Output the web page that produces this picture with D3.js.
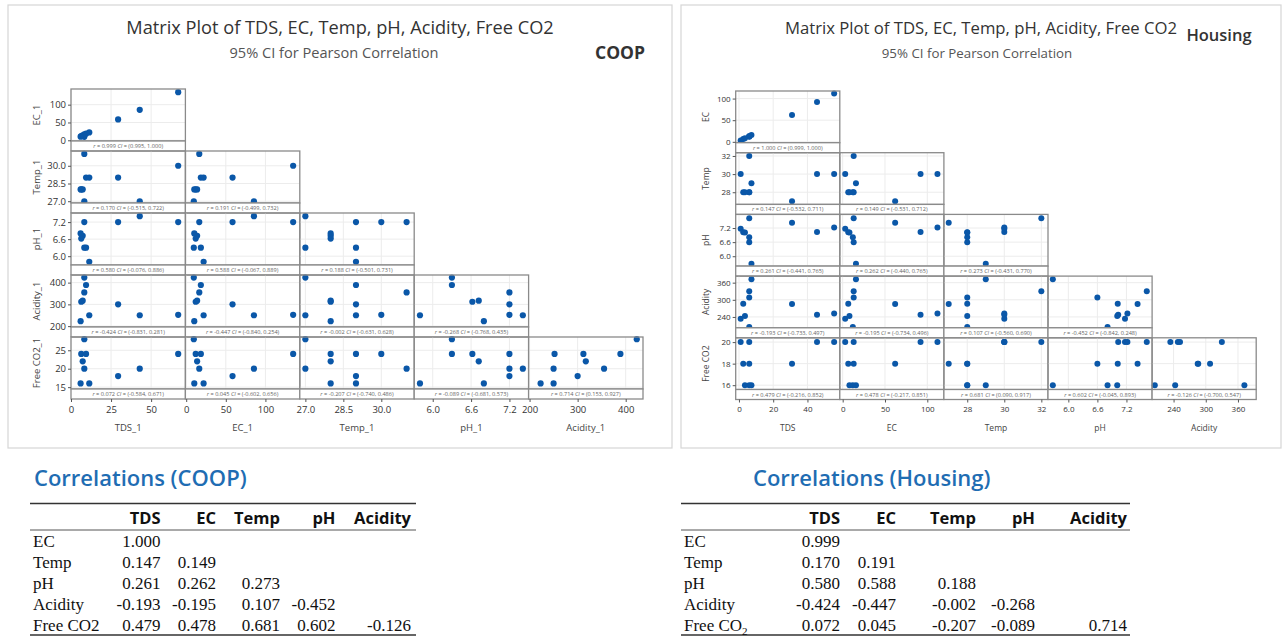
<!DOCTYPE html>
<html><head><meta charset="utf-8">
<script src="https://cdn.jsdelivr.net/npm/d3@7"></script>
<style>body{margin:0;background:#fff;} svg{display:block}</style>
</head><body><svg id="chart" width="1282" height="638"></svg>
<script>
// ---------------- DATA ----------------
// COOP sample (left matrix), 10 observations
const coopTDS      = [8.3, 6.4, 9.4, 7.3, 8.3, 6.0, 11.4, 29.4, 42.9, 66.9];
const coopEC       = [9.6, 12.0, 18.5, 13.8, 16.5, 10.2, 22.0, 58.5, 85.5, 135.0];
const coopTemp     = [27, 28, 29, 28, 31, 28, 29, 29, 27, 30];
const coopPH       = [6.3, 6.62, 6.3, 6.72, 7.2, 6.8, 5.8, 7.2, 7.41, 7.2];
const coopAcidity  = [423, 312, 389, 317, 355, 223, 250, 300, 250, 252];
const coopCO2      = [28, 24, 24, 22, 20, 16, 16, 18, 20, 24];

// Housing sample (right matrix), 10 observations
const housingTDS     = [1.0, 6.0, 45.6, 55.6, 31.0, 2.5, 6.0, 7.3, 6.0, 3.5];
const housingEC      = [3.0, 13.0, 92.0, 112.0, 62.0, 6.6, 13.0, 15.7, 12.0, 8.0];
const housingTemp    = [30, 32, 30, 30, 27, 28, 28, 29, 28, 28];
const housingPH      = [7.17, 7.62, 7.03, 7.22, 7.43, 7.02, 6.6, 5.68, 6.81, 7.01];
const housingAcidity = [234, 330, 248, 252, 285, 286, 308, 372, 205, 243];
const housingCO2     = [20, 20, 20, 20, 18, 18, 18, 16, 16, 16];

// variable labels
const coopVarLabels    = ["TDS_1", "EC_1", "Temp_1", "pH_1", "Acidity_1", "Free CO2_1"];
const housingVarLabels = ["TDS", "EC", "Temp", "pH", "Acidity", "Free CO2"];

// tick labels per variable
const coopTicks = [
  ["0", "25", "50"], ["0", "50", "100"], ["27.0", "28.5", "30.0"],
  ["6.0", "6.6", "7.2"], ["200", "300", "400"], ["15", "20", "25"]
];
const housingTicks = [
  ["0", "20", "40"], ["0", "50", "100"], ["28", "30", "32"],
  ["6.0", "6.6", "7.2"], ["240", "300", "360"], ["16", "18", "20"]
];

// strip labels (r and CI), lower triangle row by row
const coopStripR  = [["0.999"], ["0.170","0.191"], ["0.580","0.588","0.188"],
  ["-0.424","-0.447","-0.002","-0.268"], ["0.072","0.045","-0.207","-0.089","0.714"]];
const coopStripCI = [["(0.995, 1.000)"], ["(-0.515, 0.722)","(-0.499, 0.732)"],
  ["(-0.076, 0.886)","(-0.067, 0.889)","(-0.501, 0.731)"],
  ["(-0.831, 0.281)","(-0.840, 0.254)","(-0.631, 0.628)","(-0.768, 0.435)"],
  ["(-0.584, 0.671)","(-0.602, 0.656)","(-0.740, 0.486)","(-0.681, 0.573)","(0.153, 0.927)"]];
const housingStripR  = [["1.000"], ["0.147","0.149"], ["0.261","0.262","0.273"],
  ["-0.193","-0.195","0.107","-0.452"], ["0.479","0.478","0.681","0.602","-0.126"]];
const housingStripCI = [["(0.999, 1.000)"], ["(-0.532, 0.711)","(-0.531, 0.712)"],
  ["(-0.441, 0.765)","(-0.440, 0.765)","(-0.431, 0.770)"],
  ["(-0.733, 0.497)","(-0.734, 0.496)","(-0.560, 0.690)","(-0.842, 0.248)"],
  ["(-0.216, 0.852)","(-0.217, 0.851)","(0.090, 0.917)","(-0.045, 0.893)","(-0.700, 0.547)"]];

// correlation tables
const corrCols = ["TDS", "EC", "Temp", "pH", "Acidity"];
const corrRows = ["EC", "Temp", "pH", "Acidity", "Free CO2"];
const coopCorr = [["1.000"], ["0.147","0.149"], ["0.261","0.262","0.273"],
  ["-0.193","-0.195","0.107","-0.452"], ["0.479","0.478","0.681","0.602","-0.126"]];
const housingCorr = [["0.999"], ["0.170","0.191"], ["0.580","0.588","0.188"],
  ["-0.424","-0.447","-0.002","-0.268"], ["0.072","0.045","-0.207","-0.089","0.714"]];

// ---------------- DRAWING ----------------
const svg = d3.select("#chart");
const SANS = "'Open Sans', 'Noto Sans', sans-serif";
const SERIF = "'Liberation Serif', 'DejaVu Serif', serif";
const DOT = "#0a57a8";

function drawMatrix(cfg) {
  const g = svg.append("g");
  g.append("rect").attr("x", cfg.box[0]).attr("y", cfg.box[1])
    .attr("width", cfg.box[2]).attr("height", cfg.box[3])
    .attr("fill", "#fff").attr("stroke", "#d6d6d6").attr("stroke-width", 1.2);
  g.append("text").attr("x", cfg.titleX).attr("y", 34).attr("text-anchor", "middle")
    .attr("font-family", SANS).attr("font-size", cfg.titleSize).attr("fill", "#333")
    .text("Matrix Plot of TDS, EC, Temp, pH, Acidity, Free CO2");
  g.append("text").attr("x", cfg.subX).attr("y", 58).attr("text-anchor", "middle")
    .attr("font-family", SANS).attr("font-size", cfg.subSize).attr("fill", "#555")
    .text("95% CI for Pearson Correlation");
  g.append("text").attr("x", cfg.tagX).attr("y", cfg.tagY).attr("text-anchor", "middle")
    .attr("font-family", SANS).attr("font-size", cfg.tagSize).attr("font-weight", cfg.tagWeight).attr("fill", "#333")
    .text(cfg.tag);

  const vars = cfg.data;
  const plotH = cfg.rowH - cfg.stripH;
  const xs = cfg.xDomains.map((d, i) => d3.scaleLinear().domain(d)
    .range([cfg.x0 + i * cfg.colW, cfg.x0 + (i + 1) * cfg.colW]));
  const ys = cfg.yDomains.map((d, j) => d3.scaleLinear().domain(d)
    .range([cfg.y0 + j * cfg.rowH + plotH, cfg.y0 + j * cfg.rowH]));
  const tickNum = t => +t;

  for (let j = 0; j < 5; j++) {
    const yv = vars[j + 1];
    const ys_ = ys[j];
    const top = cfg.y0 + j * cfg.rowH;
    for (let i = 0; i <= j; i++) {
      const xv = vars[i];
      const xs_ = xs[i];
      const left = cfg.x0 + i * cfg.colW;
      const cell = g.append("g");
      cell.selectAll(".gx").data(cfg.ticks[i].map(tickNum)).join("line")
        .attr("x1", d => xs_(d)).attr("x2", d => xs_(d))
        .attr("y1", top).attr("y2", top + plotH)
        .attr("stroke", "#ececec").attr("stroke-width", 1);
      cell.selectAll(".gy").data(cfg.ticks[j + 1].map(tickNum)).join("line")
        .attr("x1", left).attr("x2", left + cfg.colW)
        .attr("y1", d => ys_(d)).attr("y2", d => ys_(d))
        .attr("stroke", "#ececec").attr("stroke-width", 1);
      cell.selectAll("circle").data(d3.range(xv.length)).join("circle")
        .attr("cx", k => xs_(xv[k])).attr("cy", k => ys_(yv[k]))
        .attr("r", cfg.dotR).attr("fill", DOT);
      cell.append("rect").attr("x", left).attr("y", top).attr("width", cfg.colW).attr("height", plotH)
        .attr("fill", "none").attr("stroke", "#8a8a8a").attr("stroke-width", 1.3);
      cell.append("rect").attr("x", left).attr("y", top + plotH).attr("width", cfg.colW).attr("height", cfg.stripH)
        .attr("fill", "#fff").attr("stroke", "#8a8a8a").attr("stroke-width", 1.3);
      const st = cell.append("text").attr("x", left + cfg.colW / 2).attr("y", top + plotH + cfg.stripH / 2 + 2)
        .attr("text-anchor", "middle").attr("font-family", SANS).attr("font-size", 5.6).attr("fill", "#666");
      st.append("tspan").attr("font-style", "italic").text("r");
      st.append("tspan").text(" = " + cfg.stripR[j][i] + "  ");
      st.append("tspan").attr("font-style", "italic").text("CI");
      st.append("tspan").text(" = " + cfg.stripCI[j][i]);
    }
    const ya = g.append("g").attr("transform", `translate(${cfg.x0},0)`)
      .call(d3.axisLeft(ys_).tickValues(cfg.ticks[j + 1].map(tickNum)).tickSize(3)
        .tickPadding(2).tickFormat((d, k) => cfg.ticks[j + 1][k]));
    ya.select(".domain").remove();
    ya.selectAll("line").attr("stroke", "#555");
    ya.selectAll("text").attr("font-family", SANS).attr("font-size", cfg.tickSize).attr("fill", "#333");
    g.append("text").attr("transform", `translate(${cfg.yTitleX},${top + plotH / 2}) rotate(-90)`)
      .attr("text-anchor", "middle").attr("font-family", SANS).attr("font-size", cfg.axTitleSize).attr("fill", "#444")
      .text(cfg.labels[j + 1]);
  }
  const bottom = cfg.y0 + 5 * cfg.rowH;
  for (let i = 0; i < 5; i++) {
    const xa = g.append("g").attr("transform", `translate(0,${bottom})`)
      .call(d3.axisBottom(xs[i]).tickValues(cfg.ticks[i].map(tickNum)).tickSize(3)
        .tickFormat((d, k) => cfg.ticks[i][k]));
    xa.select(".domain").remove();
    xa.selectAll("line").attr("stroke", "#555");
    xa.selectAll("text").attr("font-family", SANS).attr("font-size", cfg.tickSize).attr("fill", "#333").attr("dy", "0.85em");
    g.append("text").attr("x", cfg.x0 + (i + 0.5) * cfg.colW).attr("y", 431)
      .attr("text-anchor", "middle").attr("font-family", SANS).attr("font-size", cfg.axTitleSize).attr("fill", "#444")
      .text(cfg.labels[i]);
  }
}

drawMatrix({
  box: [8, 5, 664, 443], titleX: 340, titleSize: 18.2, subX: 334, subSize: 14.6,
  tag: "COOP", tagX: 620, tagY: 59, tagSize: 17.5, tagWeight: 700,
  tickSize: 9.5, axTitleSize: 9.5, dotR: 3.1,
  x0: 71, colW: 114.4, y0: 89, rowH: 62, stripH: 10, yTitleX: 40,
  data: [coopTDS, coopEC, coopTemp, coopPH, coopAcidity, coopCO2],
  labels: coopVarLabels, ticks: coopTicks, stripR: coopStripR, stripCI: coopStripCI,
  xDomains: [[0, 71.4], [-1, 143.4], [26.78, 31.3], [5.71, 7.5], [198, 436]],
  yDomains: [[-2, 144], [26.85, 31.25], [5.69, 7.52], [196, 435], [14.5, 28.6]]
});

drawMatrix({
  box: [681, 5, 600, 443], titleX: 981, titleSize: 16.7, subX: 977, subSize: 13.3,
  tag: "Housing", tagX: 1219, tagY: 41, tagSize: 16.5, tagWeight: 600,
  tickSize: 8, axTitleSize: 8.5, dotR: 3.0,
  x0: 735.7, colW: 104.1, y0: 91, rowH: 61.7, stripH: 10, yTitleX: 709,
  data: [housingTDS, housingEC, housingTemp, housingPH, housingAcidity, housingCO2],
  labels: housingVarLabels, ticks: housingTicks, stripR: housingStripR, stripCI: housingStripCI,
  xDomains: [[-1.9, 58.9], [-3.4, 119.6], [26.74, 32.36], [5.58, 7.73], [200, 394]],
  yDomains: [[-2, 117.5], [26.66, 32.36], [5.58, 7.78], [202, 383], [15.6, 20.4]]
});

// ---------------- TABLES ----------------
function drawTable(cfg) {
  const g = svg.append("g");
  g.append("text").attr("x", cfg.titleX).attr("y", 486).attr("font-family", SANS)
    .attr("font-size", 22).attr("font-weight", 600).attr("fill", "#1f6db3").text(cfg.title);
  g.append("line").attr("x1", cfg.x1).attr("x2", cfg.x2).attr("y1", 503.5).attr("y2", 503.5)
    .attr("stroke", "#333").attr("stroke-width", 1.5);
  g.append("line").attr("x1", cfg.x1).attr("x2", cfg.x2).attr("y1", 530).attr("y2", 530)
    .attr("stroke", "#555").attr("stroke-width", 1);
  g.append("line").attr("x1", cfg.x1).attr("x2", cfg.x2).attr("y1", 635).attr("y2", 635)
    .attr("stroke", "#333").attr("stroke-width", 1.5);
  g.selectAll(".hdr").data(corrCols).join("text")
    .attr("x", (d, i) => cfg.colX[i]).attr("y", 524).attr("text-anchor", "end")
    .attr("font-family", SANS).attr("font-size", 16.5).attr("font-weight", 700).attr("fill", "#111")
    .text(d => d);
  const rowY = d3.scaleBand().domain(corrRows).range([531, 636]);
  corrRows.forEach((r, j) => {
    const y = rowY(r) + rowY.bandwidth() / 2 + 5.5;
    const t = g.append("text").attr("x", cfg.labelX).attr("y", y).attr("font-family", SERIF)
      .attr("font-size", 17).attr("fill", "#111");
    if (cfg.subscript && r === "Free CO2") {
      t.append("tspan").text("Free CO");
      t.append("tspan").attr("font-size", 11).attr("dy", 4).text("2");
    } else t.text(r);
    cfg.values[j].forEach((v, i) => {
      g.append("text").attr("x", cfg.colX[i]).attr("y", y).attr("text-anchor", "end")
        .attr("font-family", SERIF).attr("font-size", 17).attr("fill", "#111").text(v);
    });
  });
}

drawTable({ title: "Correlations (COOP)", titleX: 34, x1: 30, x2: 416, labelX: 33,
  colX: [160.5, 216, 280, 335.5, 411], values: coopCorr, subscript: false });
drawTable({ title: "Correlations (Housing)", titleX: 753, x1: 681, x2: 1130, labelX: 684,
  colX: [840, 896, 976, 1035, 1127], values: housingCorr, subscript: true });
</script>
</body></html>
